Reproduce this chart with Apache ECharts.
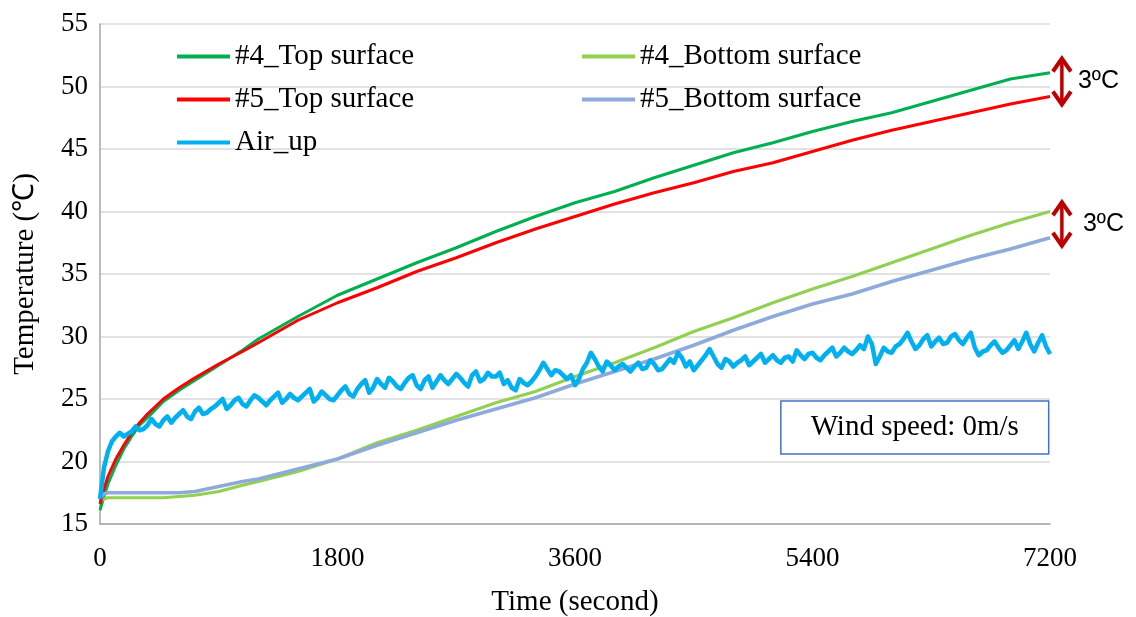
<!DOCTYPE html>
<html>
<head>
<meta charset="utf-8">
<script src="https://cdn.jsdelivr.net/npm/echarts@6/dist/echarts.min.js"></script>
<style>
  html, body { margin: 0; padding: 0; background: #fff; }
  #chart { width: 1136px; height: 617px; }
</style>
</head>
<body>
<div id="chart"></div>
<script>
// Sample times (s) for the surface temperature curves
const surfTime = [0, 30, 60, 120, 180, 240, 300, 360, 480, 600, 720, 900, 1080, 1200, 1500, 1800,
  2100, 2400, 2700, 3000, 3300, 3600, 3900, 4200, 4500, 4800, 5100, 5400, 5700, 6000, 6300, 6600, 6900, 7200];

const top4 = [16.1, 17.2, 18.2, 19.7, 21.0, 22.0, 22.9, 23.5, 24.8, 25.7, 26.5, 27.7, 28.9, 29.8, 31.6, 33.3,
  34.6, 35.9, 37.1, 38.4, 39.6, 40.7, 41.6, 42.7, 43.7, 44.7, 45.5, 46.4, 47.2, 47.9, 48.8, 49.7, 50.6, 51.1];

const top5 = [16.6, 17.8, 18.8, 20.2, 21.3, 22.3, 23.1, 23.8, 25.0, 25.9, 26.7, 27.8, 28.8, 29.5, 31.3, 32.7,
  33.9, 35.2, 36.3, 37.5, 38.6, 39.6, 40.6, 41.5, 42.3, 43.2, 43.9, 44.8, 45.7, 46.5, 47.2, 47.9, 48.6, 49.2];

const bottom4 = [16.8, 17.0, 17.1, 17.1, 17.1, 17.1, 17.1, 17.1, 17.1, 17.2, 17.3, 17.6, 18.1, 18.4, 19.2, 20.2,
  21.5, 22.5, 23.6, 24.7, 25.6, 26.8, 27.9, 29.1, 30.4, 31.5, 32.7, 33.8, 34.8, 35.9, 37.0, 38.1, 39.1, 40.0];

const bottom5 = [17.1, 17.4, 17.5, 17.5, 17.5, 17.5, 17.5, 17.5, 17.5, 17.5, 17.6, 18.0, 18.4, 18.6, 19.4, 20.2,
  21.3, 22.3, 23.3, 24.2, 25.1, 26.2, 27.2, 28.2, 29.3, 30.5, 31.6, 32.6, 33.4, 34.4, 35.3, 36.2, 37.0, 37.9];

// Air temperature above the specimens, logged every 30 s (0 … 7200 s)
const airStep = 30;
const airUp = [
  17.0, 19.5, 20.8, 21.6, 22.0, 22.3, 22.0, 22.2, 22.4, 22.8,
  22.5, 22.6, 22.9, 23.4, 23.0, 22.8, 23.3, 23.6, 23.1, 23.5,
  23.8, 24.1, 23.6, 23.4, 24.0, 24.3, 23.8, 23.9, 24.2, 24.4,
  24.7, 25.0, 24.2, 24.5, 24.9, 25.1, 24.6, 24.4, 24.9, 25.3,
  25.1, 24.8, 24.5, 24.9, 25.2, 25.5, 24.7, 25.0, 25.4, 25.1,
  24.9, 25.2, 25.5, 25.8, 24.8, 25.1, 25.6, 25.3, 25.0, 24.9,
  25.3, 25.7, 26.0, 25.4, 25.2, 25.8, 26.2, 26.5, 25.5, 25.9,
  26.6, 26.2, 25.9, 26.7, 26.4, 26.0, 25.8, 26.3, 26.7, 26.9,
  26.1, 25.8, 26.5, 26.8, 25.9, 26.4, 26.9, 26.5, 26.2, 26.6,
  27.0, 26.7, 26.3, 26.0, 26.9, 27.2, 26.4, 26.6, 27.1, 26.8,
  26.8, 27.1, 26.2, 26.5, 25.9, 25.7, 26.6, 26.3, 26.1, 26.4,
  26.8, 27.3, 27.9, 27.4, 26.9, 27.3, 27.2, 26.9, 26.6, 26.9,
  26.1, 26.6, 27.4, 27.9, 28.7, 28.2, 27.6, 27.2, 28.0, 27.7,
  27.3, 27.6, 27.8, 27.5, 27.2, 27.6, 27.9, 27.4, 27.5, 28.1,
  27.8, 27.3, 27.4, 27.8, 28.2, 27.9, 28.7, 28.3, 27.6, 28.0,
  27.3, 27.7, 28.1, 28.5, 29.0, 28.4, 27.8, 27.5, 28.2, 28.0,
  27.6, 27.9, 28.1, 28.4, 27.7, 28.0, 28.3, 28.6, 27.9, 28.2,
  28.5, 28.1, 27.9, 28.3, 28.4, 28.0, 28.9, 28.5, 28.2, 28.6,
  28.7, 28.3, 28.1, 28.5, 28.8, 29.1, 28.4, 28.7, 29.1, 28.8,
  28.6, 28.9, 29.3, 29.0, 30.0, 29.4, 27.8, 28.4, 29.1, 28.8,
  28.7, 29.2, 29.4, 29.8, 30.3, 29.6, 29.0, 29.3, 29.8, 30.1,
  29.2, 29.6, 29.9, 29.4, 29.5, 30.0, 30.2, 29.7, 29.4, 29.9,
  30.3, 29.1, 28.5, 28.8, 28.9, 29.3, 29.6, 29.1, 28.7, 28.9,
  29.3, 29.7, 29.0, 29.6, 30.3, 29.4, 28.8, 29.5, 30.1, 29.2,
  28.6
];

const xTicks = [0, 1800, 3600, 5400, 7200];
const seriesNames = ['#4_Top surface', '#4_Bottom surface', '#5_Top surface', '#5_Bottom surface', 'Air_up'];
const seriesColors = ['#00B050', '#92D050', '#FF0000', '#8EA9DB', '#00B0F0'];
const diffLabel = '3ºC';
const windLabel = 'Wind speed: 0m/s';

const pair = (ts, vs) => ts.map((t, i) => [t, vs[i]]);
const airData = airUp.map((v, i) => [i * airStep, v]);

const serif = '"Liberation Serif", "Times New Roman", serif';
const chart = echarts.init(document.getElementById('chart'));

function lineSeries(name, data, color, width) {
  return {
    name, type: 'line', data, showSymbol: false, symbol: 'none',
    lineStyle: { color, width, join: 'round' }, itemStyle: { color },
    emphasis: { disabled: true }, animation: false
  };
}

const legendText = { fontFamily: serif, fontSize: 29, color: '#000', lineHeight: 28 };

chart.setOption({
  backgroundColor: '#fff',
  animation: false,
  grid: { left: 100, right: 86, top: 24, bottom: 93, containLabel: false, outerBoundsMode: 'none' },
  legend: [
    {
      data: [seriesNames[0], seriesNames[2], seriesNames[4]],
      orient: 'vertical', left: 177, top: 42, padding: 0, itemGap: 14,
      icon: 'rect', itemWidth: 53, itemHeight: 4, textStyle: legendText, selectedMode: false
    },
    {
      data: [seriesNames[1], seriesNames[3]],
      orient: 'vertical', left: 582, top: 42, padding: 0, itemGap: 14,
      icon: 'rect', itemWidth: 53, itemHeight: 4, textStyle: legendText, selectedMode: false
    }
  ],
  xAxis: {
    type: 'value', min: xTicks[0], max: xTicks[xTicks.length - 1], interval: 1800,
    name: 'Time (second)', nameLocation: 'middle', nameGap: 64,
    nameTextStyle: { fontFamily: serif, fontSize: 29, color: '#000' },
    axisLine: { show: true, lineStyle: { color: '#A6A6A6', width: 1.5 } },
    axisTick: { show: false },
    splitLine: { show: false },
    axisLabel: { fontFamily: serif, fontSize: 27, color: '#000', margin: 21, formatter: v => String(v) }
  },
  yAxis: {
    type: 'value', min: 15, max: 55, interval: 5,
    name: 'Temperature (℃)', nameLocation: 'middle', nameGap: 60,
    nameTextStyle: { fontFamily: serif, fontSize: 29, color: '#000' },
    axisLine: { show: true, lineStyle: { color: '#A6A6A6', width: 1.5 } },
    axisTick: { show: false },
    splitLine: { show: true, lineStyle: { color: '#D9D9D9', width: 1.5 } },
    axisLabel: { fontFamily: serif, fontSize: 27, color: '#000', margin: 12 }
  },
  series: [
    lineSeries(seriesNames[0], pair(surfTime, top4), seriesColors[0], 3),
    lineSeries(seriesNames[1], pair(surfTime, bottom4), seriesColors[1], 3),
    lineSeries(seriesNames[2], pair(surfTime, top5), seriesColors[2], 3),
    lineSeries(seriesNames[3], pair(surfTime, bottom5), seriesColors[3], 3.5),
    lineSeries(seriesNames[4], airData, seriesColors[4], 4.5)
  ]
});

// Double-headed arrows marking the gap between #4 and #5 at the end of the test
function arrow(x, y0, y1) {
  const c = '#C00000';
  const hw = 9, hh = 15;
  return [
    { type: 'line', shape: { x1: x, y1: y0 + 2, x2: x, y2: y1 - 2 }, style: { stroke: c, lineWidth: 3.5 } },
    { type: 'polyline', shape: { points: [[x - hw, y0 + hh], [x, y0 + 2], [x + hw, y0 + hh]] },
      style: { stroke: c, lineWidth: 4, fill: null, lineJoin: 'miter' } },
    { type: 'polyline', shape: { points: [[x - hw, y1 - hh], [x, y1 - 2], [x + hw, y1 - hh]] },
      style: { stroke: c, lineWidth: 4, fill: null, lineJoin: 'miter' } }
  ];
}

const arrowT = 7290;
const topSpan = [52.4, 48.4];
const botSpan = [40.9, 37.1];
const toPx = p => chart.convertToPixel({ gridIndex: 0 }, p);
const pTop0 = toPx([arrowT, topSpan[0]]);
const pTop1 = toPx([arrowT, topSpan[1]]);
const pBot0 = toPx([arrowT, botSpan[0]]);
const pBot1 = toPx([arrowT, botSpan[1]]);

const labelFont = '25px "Liberation Sans", Arial, sans-serif';
// Annotation box placed in data space (time, temperature)
const boxLeftT = 5160, boxRightT = 7190, boxTopV = 24.85, boxBotV = 20.6;
const b0 = toPx([boxLeftT, boxTopV]);
const b1 = toPx([boxRightT, boxBotV]);

chart.setOption({
  graphic: [
    ...arrow(pTop0[0], pTop0[1], pTop1[1]),
    ...arrow(pBot0[0], pBot0[1], pBot1[1]),
    { type: 'text', x: pTop0[0] + 16, y: (pTop0[1] + pTop1[1]) / 2,
      style: { text: diffLabel, font: labelFont, fill: '#000', verticalAlign: 'middle' } },
    { type: 'text', x: pBot0[0] + 21, y: (pBot0[1] + pBot1[1]) / 2,
      style: { text: diffLabel, font: labelFont, fill: '#000', verticalAlign: 'middle' } },
    { type: 'rect', shape: { x: b0[0], y: b0[1], width: b1[0] - b0[0], height: b1[1] - b0[1] },
      style: { fill: '#fff', stroke: '#4472C4', lineWidth: 1.5 }, z: 10 },
    { type: 'text', x: (b0[0] + b1[0]) / 2, y: (b0[1] + b1[1]) / 2, z: 11,
      style: { text: windLabel, font: '29px ' + serif, fill: '#000', align: 'center', verticalAlign: 'middle' } }
  ]
});
</script>
</body>
</html>
